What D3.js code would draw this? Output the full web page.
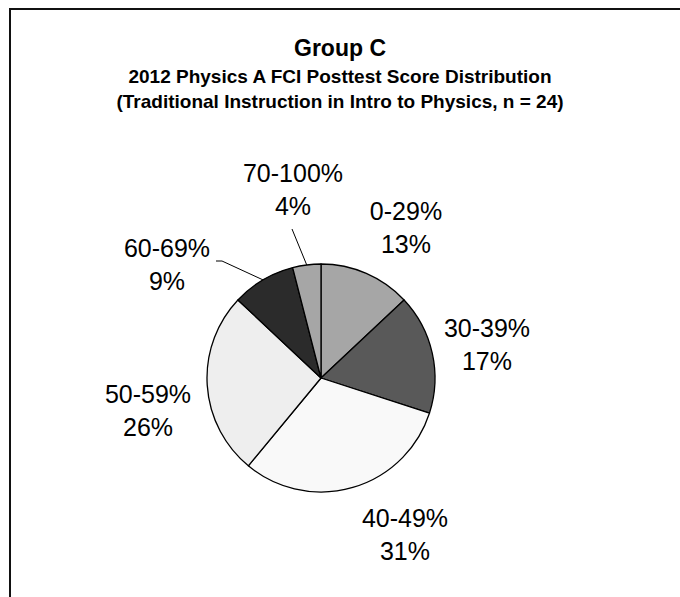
<!DOCTYPE html>
<html>
<head>
<meta charset="utf-8">
<script src="https://cdn.jsdelivr.net/npm/d3@7"></script>
<style>
  body { margin: 0; background: #fff; }
  svg text { font-family: "Liberation Sans", Arial, sans-serif; fill: #000; }
</style>
</head>
<body>
<div id="chart"></div>
<script>
// score bands and share of students (%)
var categories = ["0-29%", "30-39%", "40-49%", "50-59%", "60-69%", "70-100%"];
var percents = [13, 17, 31, 26, 9, 4];
var sliceColors = ["#a6a6a6", "#595959", "#f9f9f9", "#eeeeee", "#2b2b2b", "#a6a6a6"];

var titleLines = ["Group C",
    "2012 Physics A FCI Posttest Score Distribution",
    "(Traditional Instruction in Intro to Physics, n = 24)"];

// label layout: offset of each label block (centre x, first baseline) from the pie centre
var labelOffsets = [[85, -158], [166, -41], [84, 149], [-173, 25], [-154, -121], [-28, -196]];
// leader lines: label-side end relative to the pie centre, null = no leader
var leaderEnds = [null, null, null, null, [[-105, -117], [-99, -117]], [[-29, -149]]];

var width = 680, height = 597;
var cx = 321, cy = 378, radius = 114;

var svg = d3.select("#chart").append("svg")
    .attr("width", width)
    .attr("height", height);

// frame (top and left edges visible, rest cut off)
svg.append("path")
    .attr("d", "M10,597 L10,9 L680,9")
    .attr("fill", "none")
    .attr("stroke", "#111")
    .attr("stroke-width", 2);

// titles
svg.append("text")
    .attr("x", 340).attr("y", 56)
    .attr("text-anchor", "middle")
    .style("font-weight", "bold")
    .style("font-size", "23px")
    .text(titleLines[0]);
svg.selectAll(".sub").data(titleLines.slice(1)).enter().append("text")
    .attr("class", "sub")
    .attr("x", 340)
    .attr("y", function(d, i) { return 83 + i * 25; })
    .attr("text-anchor", "middle")
    .style("font-weight", "bold")
    .style("font-size", "19px")
    .text(function(d) { return d; });

var data = categories.map(function(c, i) { return {name: c, value: percents[i], i: i}; });

var pie = d3.pie()
    .sort(null)
    .value(function(d) { return d.value; });

var arc = d3.arc().innerRadius(0).outerRadius(radius);
var edgeArc = d3.arc().innerRadius(radius).outerRadius(radius);

var g = svg.append("g")
    .attr("transform", "translate(" + cx + "," + cy + ")");

var arcs = pie(data);

g.selectAll("path.slice")
    .data(arcs)
    .enter().append("path")
    .attr("class", "slice")
    .attr("d", arc)
    .attr("fill", function(d) { return sliceColors[d.data.i]; })
    .attr("stroke", "#000")
    .attr("stroke-width", 1.3)
    .attr("stroke-linejoin", "round");

// leader lines from label to slice edge
g.selectAll("path.leader")
    .data(arcs.filter(function(d) { return leaderEnds[d.data.i]; }))
    .enter().append("path")
    .attr("class", "leader")
    .attr("fill", "none")
    .attr("stroke", "#000")
    .attr("stroke-width", 1)
    .attr("d", function(d) {
        var pts = leaderEnds[d.data.i].slice();
        pts.push(edgeArc.centroid(d));
        return d3.line()(pts);
    });

// labels: category + percentage
var labels = g.selectAll("text.lbl")
    .data(arcs)
    .enter().append("text")
    .attr("class", "lbl")
    .attr("text-anchor", "middle")
    .style("font-size", "25px");

labels.append("tspan")
    .attr("x", function(d) { return labelOffsets[d.data.i][0]; })
    .attr("y", function(d) { return labelOffsets[d.data.i][1]; })
    .text(function(d) { return d.data.name; });
labels.append("tspan")
    .attr("x", function(d) { return labelOffsets[d.data.i][0]; })
    .attr("y", function(d) { return labelOffsets[d.data.i][1] + 33; })
    .text(function(d) { return d.data.value + "%"; });
</script>
</body>
</html>
